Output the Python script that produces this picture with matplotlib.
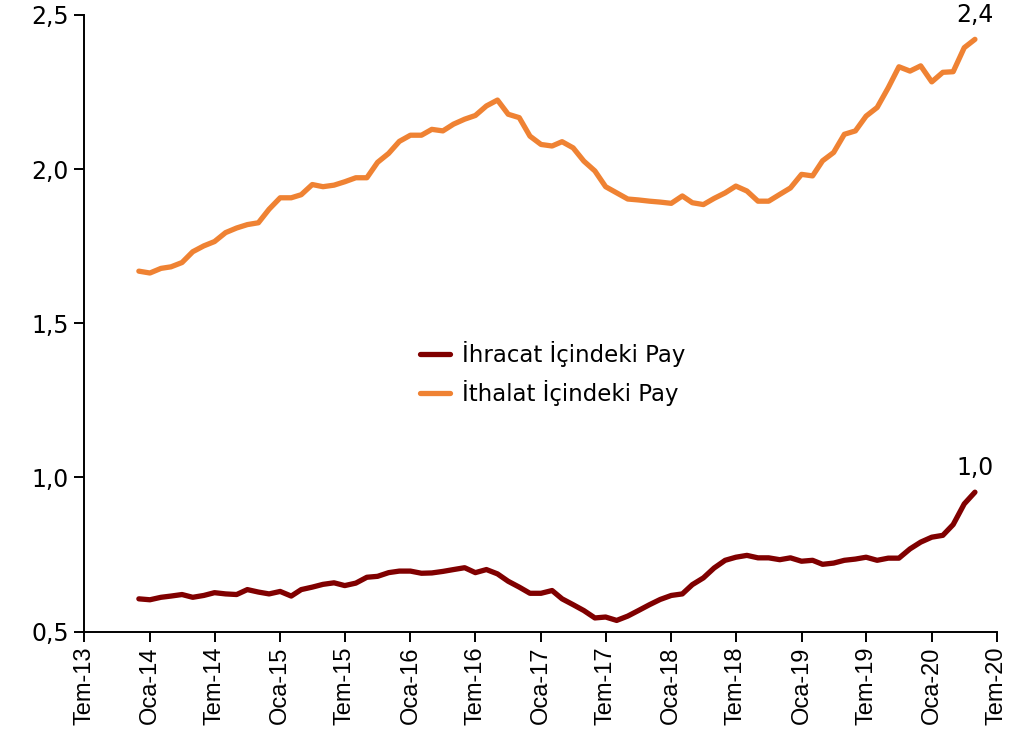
import matplotlib
matplotlib.use("Agg")
import matplotlib.pyplot as plt
import matplotlib.dates as mdates
import matplotlib.ticker as mticker
import pandas as pd

# Aylık seriler, Ara-13 .. May-20
months = pd.date_range("2013-12-01", periods=78, freq="MS")

ihracat = [
    0.606, 0.603, 0.611, 0.615, 0.620, 0.611, 0.617, 0.626, 0.622, 0.620,
    0.636, 0.628, 0.622, 0.630, 0.615, 0.636, 0.644, 0.653, 0.658, 0.649,
    0.657, 0.676, 0.679, 0.691, 0.696, 0.696, 0.689, 0.690, 0.695, 0.701,
    0.707, 0.691, 0.701, 0.687, 0.663, 0.644, 0.624, 0.624, 0.633, 0.606,
    0.587, 0.568, 0.544, 0.547, 0.536, 0.550, 0.568, 0.587, 0.604, 0.617,
    0.622, 0.652, 0.674, 0.706, 0.731, 0.741, 0.747, 0.739, 0.739, 0.733,
    0.739, 0.728, 0.731, 0.718, 0.722, 0.731, 0.735, 0.741, 0.731, 0.738,
    0.738, 0.768, 0.790, 0.806, 0.812, 0.847, 0.914, 0.952,
]

ithalat = [
    1.669, 1.663, 1.678, 1.683, 1.697, 1.732, 1.751, 1.765, 1.794, 1.809,
    1.820, 1.826, 1.870, 1.907, 1.907, 1.917, 1.950, 1.943, 1.948, 1.959,
    1.972, 1.972, 2.022, 2.051, 2.090, 2.110, 2.110, 2.129, 2.124, 2.146,
    2.162, 2.174, 2.205, 2.224, 2.178, 2.167, 2.107, 2.080, 2.075, 2.089,
    2.069, 2.026, 1.994, 1.943, 1.923, 1.903, 1.900, 1.896, 1.893, 1.889,
    1.913, 1.891, 1.885, 1.905, 1.923, 1.945, 1.929, 1.896, 1.896, 1.918,
    1.939, 1.983, 1.978, 2.027, 2.054, 2.113, 2.124, 2.172, 2.200, 2.264,
    2.332, 2.318, 2.335, 2.283, 2.314, 2.316, 2.394, 2.421,
]

labels = ["İhracat İçindeki Pay", "İthalat İçindeki Pay"]
end_labels = ["1,0", "2,4"]
month_names = {1: "Oca", 7: "Tem"}

red = "#800000"
orange = "#EF8233"

fig = plt.figure(figsize=(10.25, 7.42), dpi=100)
ax = fig.add_axes([0.0822, 0.1489, 0.8902, 0.8309])

ax.plot(months, ihracat, color=red, lw=3.8, label=labels[0], solid_capstyle="round")
ax.plot(months, ithalat, color=orange, lw=3.8, label=labels[1], solid_capstyle="round")

for series, txt in zip([ihracat, ithalat], end_labels):
    ax.annotate(txt, xy=(months[-1], series[-1]), xytext=(0, 9),
                textcoords="offset points", ha="center", va="bottom",
                fontsize=17, family="DejaVu Sans")

ax.set_ylim(0.5, 2.5)
ax.set_yticks([0.5, 1.0, 1.5, 2.0, 2.5])
ax.yaxis.set_major_formatter(
    mticker.FuncFormatter(lambda v, p: f"{v:.1f}".replace(".", ",")))

ax.set_xlim(pd.Timestamp("2013-07-01"), pd.Timestamp("2020-07-01"))
ax.xaxis.set_major_locator(mdates.MonthLocator(bymonth=[1, 7]))
ax.xaxis.set_major_formatter(
    mticker.FuncFormatter(
        lambda v, p: f"{month_names[mdates.num2date(v).month]}-{mdates.num2date(v):%y}"))

for lbl in ax.get_xticklabels():
    lbl.set_rotation(90)
    lbl.set_family("Liberation Sans")
    lbl.set_fontsize(17)
for lbl in ax.get_yticklabels():
    lbl.set_family("DejaVu Sans")
    lbl.set_fontsize(17)

ax.spines["top"].set_visible(False)
ax.spines["right"].set_visible(False)
for side in ["left", "bottom"]:
    ax.spines[side].set_linewidth(1.4)
ax.tick_params(axis="both", direction="out", length=7, width=1.4, pad=4)

leg = ax.legend(loc="center left", bbox_to_anchor=(0.41, 0.497),
                bbox_transform=fig.transFigure, frameon=False,
                prop={"family": "DejaVu Sans", "size": 16.5},
                handlelength=1.3, handletextpad=0.5, labelspacing=0.55,
                borderpad=0, borderaxespad=0)

fig.savefig("out.png", dpi=100)
